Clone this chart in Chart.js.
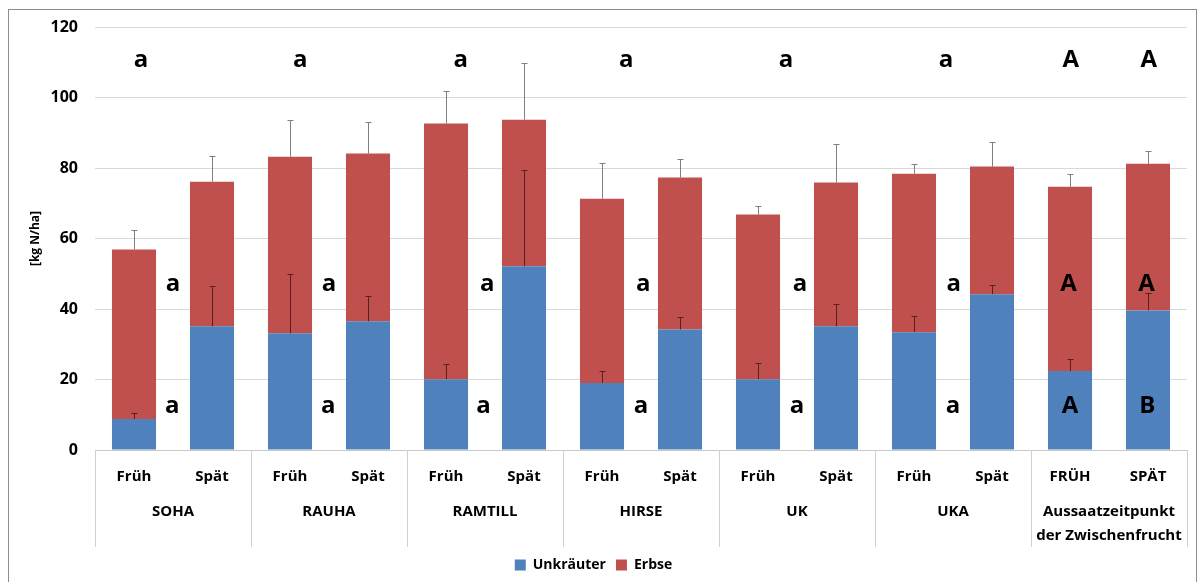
<!DOCTYPE html>
<html>
  <head>
    <meta charset="utf-8">
    <script src="https://cdn.jsdelivr.net/npm/chart.js"></script>
    <style>
      body { margin: 0; background: #fff; }
      .rahmen { position: absolute; left: 8px; top: 9px; width: 1187px; height: 600px; border: 1px solid #8c8c8c; }
      #grafik { position: absolute; left: 0; top: 0; }
    </style>
  </head>
  <body>
    <div class="rahmen"></div>
    <canvas id="grafik" width="1199" height="582"></canvas>
    <script>
      // Beschriftung der Balken
      const zeitpunkt = ['Früh', 'Spät', 'Früh', 'Spät', 'Früh', 'Spät', 'Früh', 'Spät', 'Früh', 'Spät', 'Früh', 'Spät', 'FRÜH', 'SPÄT'];
      const gruppen = ['SOHA', 'RAUHA', 'RAMTILL', 'HIRSE', 'UK', 'UKA', ['Aussaatzeitpunkt', 'der Zwischenfrucht']];

      // Werte [kg N/ha]
      const unkraeuter = [8.8, 35.1, 33.1, 36.5, 20.1, 52.1, 19.0, 34.2, 20.1, 35.1, 33.4, 44.2, 22.4, 39.6];
      const erbse = [48.1, 41.0, 50.1, 47.6, 72.5, 41.6, 52.3, 43.1, 46.7, 40.8, 45.0, 36.2, 52.3, 41.6];
      const fehlerUnkraeuter = [1.7, 11.3, 16.7, 7.1, 4.2, 27.4, 3.4, 3.4, 4.5, 6.2, 4.5, 2.5, 3.4, 4.8];
      const fehlerErbse = [5.4, 7.4, 10.5, 9.0, 9.3, 16.1, 10.2, 5.3, 2.3, 11.0, 2.8, 7.1, 3.7, 3.7];

      // Buchstaben (Signifikanz): Text, Position auf der x-Achse (Index), Wert
      const buchstabeText = ['a', 'a', 'a', 'a', 'a', 'a', 'A', 'A',
                             'a', 'a', 'a', 'a', 'a', 'a', 'A', 'A',
                             'a', 'a', 'a', 'a', 'a', 'a', 'A', 'B'];
      const buchstabeX = [0.09, 2.13, 4.19, 6.31, 8.36, 10.41, 12.01, 13.01,
                          0.5, 2.5, 4.53, 6.53, 8.54, 10.51, 11.98, 12.98,
                          0.49, 2.49, 4.48, 6.5, 8.5, 10.5, 12.0, 12.99];
      const buchstabeY = [110.5, 110.5, 110.5, 110.5, 110.5, 110.5, 110.5, 110.5,
                          47, 47, 47, 47, 47, 47, 47, 47,
                          12.3, 12.3, 12.3, 12.3, 12.3, 12.3, 12.3, 12.3];

      const schrift = "'Open Sans', sans-serif";

      const zusatz = {
        id: 'zusatz',
        afterDatasetsDraw(chart) {
          const ctx = chart.ctx;
          const x = chart.scales.x;
          const y = chart.scales.y;
          const unten = chart.chartArea.bottom;
          // Fehlerbalken
          const reihen = [
            { werte: unkraeuter, fehler: fehlerUnkraeuter, basis: null, farbe: '#5a1f1f' },
            { werte: erbse, fehler: fehlerErbse, basis: unkraeuter, farbe: '#808080' }
          ];
          ctx.save();
          ctx.lineWidth = 1;
          reihen.forEach(r => {
            ctx.strokeStyle = r.farbe;
            r.werte.forEach((w, i) => {
              const oben = w + (r.basis ? r.basis[i] : 0);
              const px = Math.round(x.getPixelForValue(i)) + 0.5;
              const y1 = y.getPixelForValue(oben);
              const y2 = Math.round(y.getPixelForValue(oben + r.fehler[i])) + 0.5;
              ctx.beginPath();
              ctx.moveTo(px, y1);
              ctx.lineTo(px, y2);
              ctx.moveTo(px - 3, y2);
              ctx.lineTo(px + 3, y2);
              ctx.stroke();
            });
          });
          ctx.restore();

          // Buchstaben
          ctx.save();
          ctx.fillStyle = '#000';
          ctx.font = 'bold 24px ' + schrift;
          ctx.textAlign = 'center';
          ctx.textBaseline = 'middle';
          buchstabeText.forEach((t, i) => {
            ctx.fillText(t, x.getPixelForValue(buchstabeX[i]), y.getPixelForValue(buchstabeY[i]));
          });
          ctx.restore();

          // Gruppen und Trennlinien unter der Achse
          const breite = x.getPixelForValue(1) - x.getPixelForValue(0);
          ctx.save();
          ctx.strokeStyle = '#d0d0d0';
          ctx.lineWidth = 1;
          for (let g = 0; g <= gruppen.length; g++) {
            const px = Math.round(x.getPixelForValue(2 * g) - breite / 2) + 0.5;
            ctx.beginPath();
            ctx.moveTo(px, unten);
            ctx.lineTo(px, unten + 97);
            ctx.stroke();
          }
          ctx.fillStyle = '#000';
          ctx.font = 'bold 15px ' + schrift;
          ctx.textAlign = 'center';
          ctx.textBaseline = 'middle';
          gruppen.forEach((name, g) => {
            const px = (x.getPixelForValue(2 * g) + x.getPixelForValue(2 * g + 1)) / 2;
            const zeilen = Array.isArray(name) ? name : [name];
            zeilen.forEach((z, k) => ctx.fillText(z, px, unten + 62 + k * 24));
          });
          ctx.restore();
        }
      };

      new Chart(document.getElementById('grafik').getContext('2d'), {
        type: 'bar',
        data: {
          labels: zeitpunkt,
          datasets: [
            { label: 'Unkräuter', data: unkraeuter, backgroundColor: '#4f81bd', borderWidth: 0 },
            { label: 'Erbse', data: erbse, backgroundColor: '#c0504d', borderWidth: 0 }
          ]
        },
        options: {
          responsive: false,
          animation: false,
          categoryPercentage: 1,
          barPercentage: 0.565,
          layout: { padding: { top: 27, right: 12, left: 0, bottom: 0 } },
          plugins: {
            tooltip: { enabled: false },
            legend: {
              position: 'bottom',
              labels: { boxWidth: 11, boxHeight: 11, padding: 10, color: '#000', font: { family: schrift, size: 14, weight: 'bold' } }
            }
          },
          scales: {
            x: {
              stacked: true,
              grid: { display: false },
              border: { display: true, color: '#c8c8c8' },
              ticks: { color: '#000', padding: 10, maxRotation: 0, font: { family: schrift, size: 15, weight: 'bold' } },
              afterFit: s => { s.height = 98; }
            },
            y: {
              stacked: true,
              min: 0,
              max: 120,
              ticks: { stepSize: 20, color: '#000', padding: 17, font: { family: schrift, size: 16, weight: 'bold' } },
              grid: { color: '#d9d9d9', drawTicks: false },
              border: { display: false },
              title: { display: true, text: '[kg N/ha]', color: '#000', padding: { top: 28, bottom: 0 }, font: { family: schrift, size: 12, weight: 'bold' } },
              afterFit: s => { s.width = 95; }
            }
          }
        },
        plugins: [zusatz]
      });
    </script>
  </body>
</html>
